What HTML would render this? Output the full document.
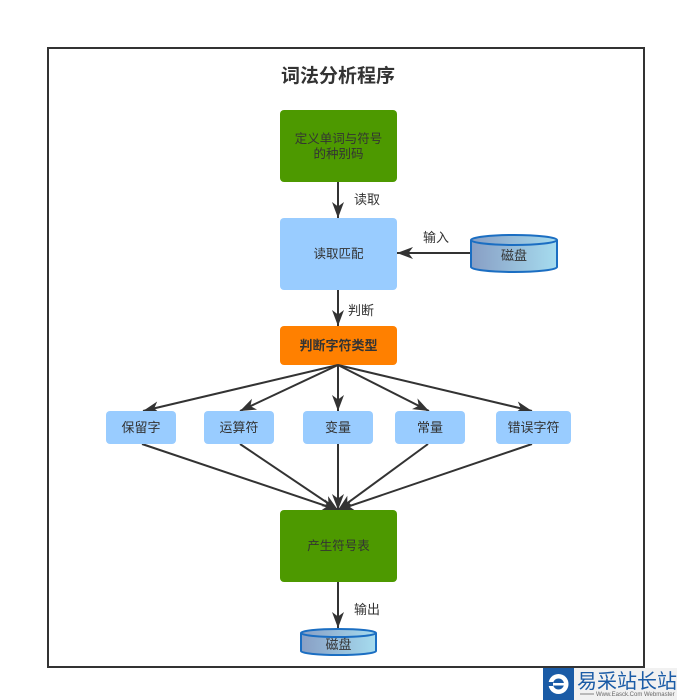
<!DOCTYPE html>
<html><head><meta charset="utf-8"><style>
html,body{margin:0;padding:0;background:#fff;}
svg{display:block;}
text{font-family:"Liberation Sans","Noto Sans CJK SC",sans-serif;}
</style></head><body>
<svg width="677" height="700" viewBox="0 0 677 700" xmlns="http://www.w3.org/2000/svg">
<defs>
<marker id="ah" markerWidth="18" markerHeight="14" refX="16" refY="7" orient="auto" markerUnits="userSpaceOnUse" overflow="visible">
<path d="M16,7 L0,1 L4.5,7 L0,13 Z" fill="#333"/>
</marker>
<linearGradient id="dg" x1="0" y1="0" x2="1" y2="0">
<stop offset="0" stop-color="#889ec4"/>
<stop offset="1" stop-color="#a6dcef"/>
</linearGradient>
</defs>
<rect x="48" y="48" width="596" height="619" fill="none" stroke="#333" stroke-width="2"/>
<text x="338" y="82" font-size="19" font-weight="bold" fill="#333" text-anchor="middle">词法分析程序</text>

<!-- box1 -->
<rect x="280" y="110" width="117" height="72" rx="4" fill="#4d9900"/>
<text x="338.5" y="143" font-size="12.5" fill="#333" text-anchor="middle">定义单词与符号</text>
<text x="338.5" y="158" font-size="12.5" fill="#333" text-anchor="middle">的种别码</text>

<g stroke="#333" stroke-width="2" marker-end="url(#ah)">
<line x1="338" y1="182" x2="338" y2="218"/>
<line x1="470" y1="253" x2="397" y2="253"/>
<line x1="338" y1="290" x2="338" y2="326"/>
<line x1="338" y1="582" x2="338" y2="628"/>
</g>
<text x="354" y="204" font-size="13" fill="#333">读取</text>

<!-- box2 -->
<rect x="280" y="218" width="117" height="72" rx="4" fill="#99ccff"/>
<text x="338.5" y="258" font-size="12.5" fill="#333" text-anchor="middle">读取匹配</text>

<!-- disk1 -->
<path d="M471,240 A43,5 0 0 1 557,240 V267 A43,5 0 0 1 471,267 Z" fill="url(#dg)" stroke="#1b6ec2" stroke-width="2"/>
<path d="M471,240 A43,5 0 0 0 557,240" fill="none" stroke="#1b6ec2" stroke-width="2"/>
<text x="514" y="260" font-size="13" fill="#333" text-anchor="middle">磁盘</text>
<text x="423" y="242" font-size="13" fill="#333">输入</text>

<text x="348" y="315" font-size="13" fill="#333">判断</text>

<!-- orange -->
<rect x="280" y="326" width="117" height="39" rx="4" fill="#ff8000"/>
<text x="338.5" y="350" font-size="13" font-weight="bold" fill="#333" text-anchor="middle">判断字符类型</text>

<!-- fan out -->
<g stroke="#333" stroke-width="2" marker-end="url(#ah)">
<line x1="338" y1="365" x2="143" y2="411"/>
<line x1="338" y1="365" x2="240" y2="411"/>
<line x1="338" y1="365" x2="338" y2="411"/>
<line x1="338" y1="365" x2="429" y2="411"/>
<line x1="338" y1="365" x2="532" y2="411"/>
<line x1="142" y1="444" x2="338" y2="510"/>
<line x1="240" y1="444" x2="338" y2="510"/>
<line x1="338" y1="444" x2="338" y2="510"/>
<line x1="428" y1="444" x2="338" y2="510"/>
<line x1="532" y1="444" x2="338" y2="510"/>
</g>

<!-- small boxes -->
<rect x="106" y="411" width="70" height="33" rx="4" fill="#99ccff"/>
<text x="141" y="432" font-size="13" fill="#333" text-anchor="middle">保留字</text>
<rect x="204" y="411" width="70" height="33" rx="4" fill="#99ccff"/>
<text x="239" y="432" font-size="13" fill="#333" text-anchor="middle">运算符</text>
<rect x="303" y="411" width="70" height="33" rx="4" fill="#99ccff"/>
<text x="338" y="432" font-size="13" fill="#333" text-anchor="middle">变量</text>
<rect x="395" y="411" width="70" height="33" rx="4" fill="#99ccff"/>
<text x="430" y="432" font-size="13" fill="#333" text-anchor="middle">常量</text>
<rect x="496" y="411" width="75" height="33" rx="4" fill="#99ccff"/>
<text x="533.5" y="432" font-size="13" fill="#333" text-anchor="middle">错误字符</text>

<!-- box bottom -->
<rect x="280" y="510" width="117" height="72" rx="4" fill="#4d9900"/>
<text x="338.5" y="550" font-size="12.5" fill="#333" text-anchor="middle">产生符号表</text>

<text x="354" y="614" font-size="13" fill="#333">输出</text>

<!-- disk2 -->
<path d="M301,633 A37.5,4 0 0 1 376,633 V651 A37.5,4 0 0 1 301,651 Z" fill="url(#dg)" stroke="#1b6ec2" stroke-width="2"/>
<path d="M301,633 A37.5,4 0 0 0 376,633" fill="none" stroke="#1b6ec2" stroke-width="2"/>
<text x="338.5" y="649" font-size="13" fill="#333" text-anchor="middle">磁盘</text>

<!-- logo -->
<rect x="543" y="668" width="134" height="32" fill="#f1f1f1"/>
<rect x="543" y="668" width="31" height="32" fill="#1a5ba6"/>
<circle cx="558.5" cy="684" r="10" fill="#fff"/>
<circle cx="558.5" cy="684" r="5.5" fill="#1a5ba6"/>
<rect x="553" y="683" width="11" height="2.5" fill="#fff"/>
<rect x="548" y="682" width="5" height="4" fill="#1a5ba6"/>
<text x="577" y="688" font-size="20" fill="#1a5ba6">易采站长站</text>
<line x1="580" y1="694" x2="594" y2="694" stroke="#666" stroke-width="0.8"/>
<text x="596" y="696" font-size="6" fill="#666">Www.Easck.Com Webmaster</text>
</svg>
</body></html>
